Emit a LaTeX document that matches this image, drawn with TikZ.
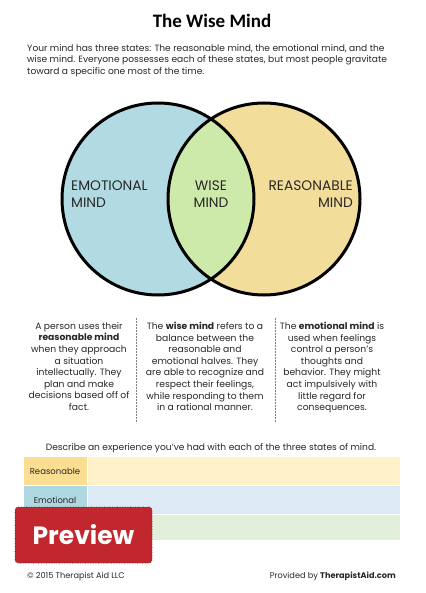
\documentclass[tikz,border=0pt]{standalone}
\usepackage{fontspec}
\setmainfont{Poppins}
\newfontfamily\titlefont{Carlito}
\usetikzlibrary{positioning}

\definecolor{emoblue}{RGB}{178,218,227}
\definecolor{reasyellow}{RGB}{243,221,154}
\definecolor{wisegreen}{RGB}{206,234,170}
\definecolor{rowyellow}{RGB}{255,241,200}
\definecolor{cellyellow}{RGB}{250,223,146}
\definecolor{rowblue}{RGB}{221,233,245}
\definecolor{cellblue}{RGB}{176,216,226}
\definecolor{rowgreen}{RGB}{226,239,218}
\definecolor{cellgreen}{RGB}{200,225,180}
\definecolor{previewred}{RGB}{193,39,45}
\definecolor{inkgray}{RGB}{40,40,40}

\begin{document}
\begin{tikzpicture}[
  x=1pt, y=-1pt,
  body/.style={inner sep=0pt, align=left, text=inkgray,
               font=\fontsize{9.1}{11.6}\selectfont},
  coltext/.style={inner sep=0pt, align=center, text=inkgray,
                  font=\fontsize{9.2}{11.6}\selectfont},
  vennlabel/.style={inner sep=0pt, text=inkgray,
                    font=\fontsize{13.8}{17}\selectfont},
  ring/.style={draw=black, line width=3pt},
  sep/.style={draw=gray, line width=0.8pt, dash pattern=on 2pt off 1pt},
  cell/.style={draw=white, line width=0.8pt},
  celltext/.style={inner sep=0pt, text=inkgray, font=\fontsize{8.5}{10}\selectfont},
  foot/.style={inner sep=0pt, text=inkgray, font=\fontsize{8.2}{10}\selectfont}
]
\useasboundingbox[fill=white] (0,0) rectangle (425,593);

% title and intro
\node[anchor=base, font=\titlefont\bfseries\fontsize{19}{22}\selectfont] (title)
    at (212,28) {The Wise Mind};
\node[body, anchor=north west] (intro) at (27,44)
    {Your mind has three states: The reasonable mind, the emotional mind, and the\\
     wise mind. Everyone possesses each of these states, but most people gravitate\\
     toward a specific one most of the time.};

% venn
\fill[emoblue] (158,199) circle (96pt);
\fill[reasyellow] (264,199) circle (96pt);
\begin{scope}
  \clip (158,199) circle (96pt);
  \fill[wisegreen] (264,199) circle (96pt);
\end{scope}
\draw[ring] (158,199) circle (96pt);
\draw[ring] (264,199) circle (96pt);

\node[vennlabel, anchor=north west, align=left] (emotional) at (71,181)
    {EMOTIONAL\\MIND};
\node[vennlabel, anchor=north, align=center] (wise) at (211,181)
    {WISE\\MIND};
\node[vennlabel, anchor=north east, align=right] (reasonable) at (353,181)
    {REASONABLE\\MIND};

% three descriptions
\node[coltext, anchor=north] (reasontext) at (79,322)
    {A person uses their\\ \textbf{reasonable mind}\\ when they approach\\
     a situation\\ intellectually. They\\ plan and make\\
     decisions based off of\\ fact.};
\node[coltext, anchor=north] (wisetext) at (205,322)
    {The \textbf{wise mind} refers to a\\ balance between the\\ reasonable and\\
     emotional halves. They\\ are able to recognize and\\ respect their feelings,\\
     while responding to them\\ in a rational manner.};
\node[coltext, anchor=north] (emotext) at (332,322)
    {The \textbf{emotional mind} is\\ used when feelings\\ control a person's\\
     thoughts and\\ behavior. They might\\ act impulsively with\\
     little regard for\\ consequences.};
\draw[sep] (136,318) -- (136,423);
\draw[sep] (275,318) -- (275,423);

% table
\node[body, anchor=base, align=center] (describe) at (211,450)
    {Describe an experience you've had with each of the three states of mind.};
\filldraw[cell, fill=rowyellow] (87,456) rectangle (400,485);
\filldraw[cell, fill=cellyellow] (23,456) rectangle (87,485);
\filldraw[cell, fill=rowblue] (87,485) rectangle (400,514);
\filldraw[cell, fill=cellblue] (23,485) rectangle (87,514);
\filldraw[cell, fill=rowgreen] (87,514) rectangle (400,540);
\filldraw[cell, fill=cellgreen] (23,514) rectangle (87,540);
\node[celltext] (reasonrow) at (55,471) {Reasonable};
\node[celltext] (emorow) at (55,500) {Emotional};

% preview stamp
\node[draw=black!80, dotted, line width=0.6pt, fill=previewred, rounded corners=3pt,
      minimum width=137pt, minimum height=56pt, inner sep=0pt,
      text=white, font=\bfseries\fontsize{25}{28}\selectfont] (preview)
    at (83.5,535) {Preview};

% footer
\node[foot, anchor=base west] (copyright) at (27,578) {© 2015 Therapist Aid LLC};
\node[foot, anchor=base east] (provided) at (396,578)
    {Provided by \textbf{TherapistAid.com}};
\end{tikzpicture}
\end{document}
